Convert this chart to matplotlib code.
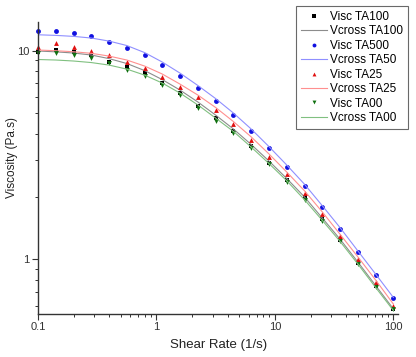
import matplotlib
matplotlib.use("Agg")
import matplotlib.pyplot as plt
from matplotlib.ticker import LogLocator, FixedLocator, FixedFormatter, NullFormatter

plt.rcParams['font.family'] = ['Liberation Sans', 'DejaVu Sans']

# shear rate (1/s)
shear = [0.1, 0.141, 0.2, 0.282, 0.398, 0.562, 0.794, 1.12, 1.58, 2.24, 3.16,
         4.47, 6.31, 8.91, 12.6, 17.8, 25.1, 35.5, 50.1, 70.8, 100]

# measured viscosity (Pa.s)
visc_ta100 = [9.87, 10.06, 9.80, 9.52, 8.84, 8.37, 7.78, 7.01, 6.24, 5.44, 4.78,
              4.12, 3.49, 2.91, 2.40, 1.98, 1.56, 1.24, 0.965, 0.747, 0.578]
visc_ta500 = [12.44, 12.36, 12.17, 11.73, 10.98, 10.33, 9.52, 8.52, 7.59, 6.64, 5.75,
              4.91, 4.12, 3.40, 2.78, 2.25, 1.78, 1.40, 1.09, 0.843, 0.652]
visc_ta25 = [10.36, 10.82, 10.36, 9.98, 9.52, 8.84, 8.22, 7.49, 6.71, 5.97, 5.19,
             4.44, 3.73, 3.10, 2.56, 2.07, 1.65, 1.30, 1.01, 0.783, 0.601]
visc_ta00 = [9.76, 9.70, 9.52, 9.18, 8.68, 8.07, 7.55, 6.84, 6.12, 5.29, 4.61,
             4.04, 3.43, 2.85, 2.36, 1.93, 1.53, 1.22, 0.952, 0.736, 0.578]

# cross model fits (Pa.s)
cross_ta100 = [9.95, 9.86, 9.73, 9.52, 9.15, 8.67, 8.02, 7.26, 6.47, 5.67, 4.91,
               4.21, 3.55, 2.96, 2.44, 1.99, 1.58, 1.25, 0.973, 0.751, 0.580]
cross_ta500 = [11.90, 11.82, 11.69, 11.48, 11.10, 10.57, 9.78, 8.81, 7.80, 6.80, 5.89,
               5.02, 4.21, 3.47, 2.83, 2.29, 1.81, 1.42, 1.10, 0.852, 0.658]
cross_ta25 = [10.06, 9.98, 9.87, 9.70, 9.41, 9.01, 8.43, 7.72, 6.91, 6.12, 5.34,
              4.57, 3.86, 3.20, 2.62, 2.13, 1.69, 1.32, 1.03, 0.798, 0.612]
cross_ta00 = [9.06, 9.01, 8.91, 8.76, 8.52, 8.15, 7.63, 6.99, 6.26, 5.49, 4.75,
              4.10, 3.45, 2.88, 2.38, 1.93, 1.54, 1.22, 0.952, 0.735, 0.570]

fig = plt.figure(figsize=(4.16, 3.57), dpi=100)
ax = fig.add_axes([0.0913, 0.1204, 0.866, 0.818])

ms = 3.5
ax.plot(shear, visc_ta100, 's', color='black', ms=ms - 0.5, mew=0, label='Visc TA100', clip_on=False)
ax.plot(shear, cross_ta100, '-', color='#8c8c8c', lw=0.8, label='Vcross TA100')
ax.plot(shear, visc_ta500, 'o', color='#1010e0', ms=ms, mew=0, label='Visc TA500', clip_on=False)
ax.plot(shear, cross_ta500, '-', color='#8f8fff', lw=0.8, label='Vcross TA50')
ax.plot(shear, visc_ta25, '^', color='#e01010', ms=ms, mew=0, label='Visc TA25', clip_on=False)
ax.plot(shear, cross_ta25, '-', color='#ff8f8f', lw=0.8, label='Vcross TA25')
ax.plot(shear, visc_ta00, 'v', color='#107010', ms=ms, mew=0, label='Visc TA00', clip_on=False)
ax.plot(shear, cross_ta00, '-', color='#80c080', lw=0.8, label='Vcross TA00')

ax.set_xscale('log')
ax.set_yscale('log')
ax.set_xlim(0.1, 110)
ax.set_ylim(0.548, 13.7)

ax.xaxis.set_major_locator(FixedLocator([0.1, 1, 10, 100]))
ax.xaxis.set_major_formatter(FixedFormatter(['0.1', '1', '10', '100']))
ax.xaxis.set_minor_locator(LogLocator(base=10, subs=range(2, 10)))
ax.xaxis.set_minor_formatter(NullFormatter())
ax.yaxis.set_major_locator(FixedLocator([1, 10]))
ax.yaxis.set_major_formatter(FixedFormatter(['1', '10']))
ax.yaxis.set_minor_locator(LogLocator(base=10, subs=range(2, 10)))
ax.yaxis.set_minor_formatter(NullFormatter())

for s in ['top', 'right']:
    ax.spines[s].set_visible(False)
for s in ['left', 'bottom']:
    ax.spines[s].set_color('#333333')
    ax.spines[s].set_linewidth(1.0)

ax.tick_params(which='major', direction='out', length=4, width=0.8, colors='#333333', labelsize=8, pad=2)
ax.tick_params(which='minor', direction='out', length=2.5, width=0.7, colors='#333333')

ax.set_xlabel('Shear Rate (1/s)', fontsize=9.5, color='#222222', labelpad=5)
ax.set_ylabel('Viscosity (Pa.s)', fontsize=8.5, color='#222222')
ax.yaxis.set_label_coords(-0.056, 0.537)

leg = fig.legend(loc='upper left', bbox_to_anchor=(296 / 416, 1 - 6 / 357),
                 fontsize=8.5, frameon=True, fancybox=False, labelspacing=0.21,
                 handlelength=2.2, handletextpad=0.3, borderpad=0.4,
                 borderaxespad=0, markerscale=0.8)
leg.get_frame().set_edgecolor('#444444')
leg.get_frame().set_linewidth(0.8)

fig.savefig('out.png', dpi=100)
